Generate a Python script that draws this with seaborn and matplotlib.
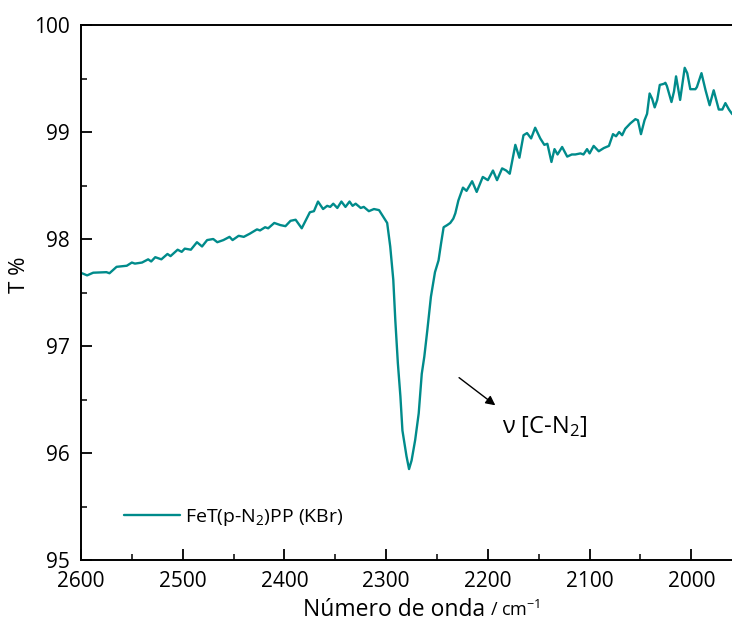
import matplotlib
matplotlib.use("Agg")
import matplotlib.pyplot as plt
from matplotlib.ticker import MultipleLocator
import seaborn as sns
import pandas as pd

# ---- data ----
wavenumber = [
    2599, 2594, 2588, 2575, 2572, 2565, 2555, 2550, 2547, 2540, 2534, 2531, 2527, 2521,
    2515, 2512, 2505, 2501, 2498, 2492, 2486, 2481, 2476, 2470, 2466, 2460, 2454, 2451,
    2445, 2440, 2434, 2427, 2424, 2419, 2416, 2410, 2404, 2399, 2394, 2389, 2383, 2375,
    2371, 2367, 2362, 2358, 2355, 2352, 2348, 2344, 2340, 2336, 2333, 2330, 2325, 2322,
    2317, 2312, 2307, 2303, 2299, 2296, 2293, 2291, 2288.5, 2286, 2284, 2280, 2277.5,
    2275, 2271.5, 2268, 2265, 2262.5, 2259.5, 2256, 2252, 2248.5, 2246, 2243.5, 2240,
    2237, 2234, 2232, 2229, 2224.5, 2221, 2215.5, 2211, 2205, 2200, 2195, 2191, 2186,
    2182, 2178.5, 2173, 2169, 2165, 2161.5, 2157.5, 2153.5, 2148.5, 2144.5, 2141.5,
    2137.5, 2134.5, 2131.5, 2127, 2122, 2117.5, 2114, 2109, 2106, 2102.5, 2100, 2096,
    2091, 2086, 2081, 2077, 2074, 2071, 2068, 2065, 2060, 2055, 2052.5, 2049.5, 2046,
    2043.5, 2041, 2038.5, 2036, 2033.5, 2031, 2027, 2025.5, 2024, 2019.5, 2017, 2015,
    2011, 2006.5, 2004, 2001, 1996, 1994.5, 1990, 1986, 1982, 1978, 1973, 1969.5,
    1966.5, 1963, 1960, 1955,
]
transmittance = [
    97.68, 97.66, 97.685, 97.69, 97.68, 97.74, 97.75, 97.78, 97.77, 97.78, 97.81, 97.79, 97.83, 97.81,
    97.86, 97.84, 97.90, 97.88, 97.91, 97.90, 97.97, 97.93, 97.99, 98.00, 97.97, 97.99, 98.02, 97.99,
    98.03, 98.02, 98.05, 98.09, 98.08, 98.11, 98.10, 98.15, 98.13, 98.12, 98.17, 98.18, 98.10, 98.25,
    98.26, 98.35, 98.28, 98.31, 98.30, 98.33, 98.29, 98.35, 98.30, 98.35, 98.31, 98.33, 98.29, 98.30,
    98.26, 98.28, 98.27, 98.21, 98.15, 97.93, 97.62, 97.24, 96.84, 96.53, 96.21, 95.97, 95.85,
    95.93, 96.12, 96.37, 96.74, 96.90, 97.15, 97.46, 97.69, 97.80, 97.96, 98.11, 98.13,
    98.15, 98.19, 98.24, 98.36, 98.48, 98.45, 98.54, 98.44, 98.58, 98.55, 98.64, 98.55, 98.66,
    98.64, 98.61, 98.88, 98.76, 98.97, 98.99, 98.94, 99.04, 98.94, 98.88, 98.89,
    98.72, 98.84, 98.79, 98.86, 98.77, 98.79, 98.79, 98.80, 98.79, 98.84, 98.80, 98.87,
    98.82, 98.85, 98.87, 98.98, 98.96, 99.00, 98.97, 99.03, 99.08, 99.12, 99.11, 98.98, 99.11,
    99.17, 99.36, 99.31, 99.23, 99.30, 99.44, 99.45, 99.46, 99.43, 99.28, 99.38, 99.52,
    99.30, 99.60, 99.55, 99.40, 99.40, 99.42, 99.55, 99.39, 99.25, 99.39, 99.21, 99.21,
    99.27, 99.21, 99.17, 99.13,
]
series_label = "FeT(p-N$_2$)PP (KBr)"
annotation_label = "ν [C-N$_2$]"
x_ticks = [2600, 2500, 2400, 2300, 2200, 2100, 2000]
y_ticks = [95, 96, 97, 98, 99, 100]

sns.set_style("ticks")
plt.rcParams["font.family"] = ["Open Sans", "DejaVu Sans"]
plt.rcParams["mathtext.fontset"] = "custom"
plt.rcParams["mathtext.rm"] = "Open Sans"
plt.rcParams["mathtext.it"] = "Open Sans:italic"
plt.rcParams["mathtext.bf"] = "Open Sans:bold"
plt.rcParams["text.color"] = "black"
plt.rcParams["axes.labelcolor"] = "black"
plt.rcParams["xtick.color"] = "black"
plt.rcParams["ytick.color"] = "black"

df = pd.DataFrame({"wn": wavenumber, "T": transmittance})

fig = plt.figure(figsize=(7.32, 6.24), dpi=100)
ax = fig.add_axes([81 / 732, 1 - 560 / 624, (732 - 81) / 732, 535 / 624])

sns.lineplot(data=df, x="wn", y="T", color="#008B8B", linewidth=1.7,
             estimator=None, sort=False, label=series_label, ax=ax)

ax.set_xlim(2600, 1960)
ax.set_ylim(95, 100)
ax.set_xticks(x_ticks)
ax.set_yticks(y_ticks)
ax.xaxis.set_minor_locator(MultipleLocator(50))
ax.yaxis.set_minor_locator(MultipleLocator(0.5))
ax.tick_params(which="major", direction="in", length=8, width=1.3, labelsize=15,
               colors="black", labelcolor="black", top=False, right=False)
ax.tick_params(which="minor", direction="in", length=4, width=1.1,
               top=False, right=False)
ax.tick_params(axis="x", which="major", pad=8)
ax.tick_params(axis="y", which="major", pad=8)
for lbl in ax.get_yticklabels():
    lbl.set_verticalalignment("center_baseline")
for side in ["left", "bottom", "top"]:
    ax.spines[side].set_linewidth(1.4)
    ax.spines[side].set_color("black")
ax.spines["right"].set_visible(False)

ax.set_xlabel("")
ax.set_ylabel("T %", fontsize=16, color="black")
ax.yaxis.label.set_verticalalignment("center")
ax.yaxis.set_label_coords(-0.094, 0.533)

# x label in two sizes
t1 = fig.text(303 / 732, 1 - 616 / 624, "Número de onda", fontsize=16.5,
              ha="left", va="baseline", color="black")
fig.canvas.draw()
bb = t1.get_window_extent()
fig.text((bb.x1 + 5) / 732, 1 - 616 / 624, "/ cm$^{-1}$", fontsize=13,
         ha="left", va="baseline", color="black")

# annotation
ax.annotate("", xy=(2190.5, 96.43), xytext=(2230.5, 96.72),
            arrowprops=dict(arrowstyle="-|>", color="black", lw=1.0,
                            mutation_scale=14))
ax.text(2186, 96.25, annotation_label, fontsize=17, ha="left", va="center",
        color="black")

leg = ax.legend(loc="lower left", bbox_to_anchor=(0.039, 0.028), frameon=False,
                fontsize=14, handlelength=2.9, handletextpad=0.25)
for t in leg.get_texts():
    t.set_color("black")

fig.savefig("out.png", dpi=100)
